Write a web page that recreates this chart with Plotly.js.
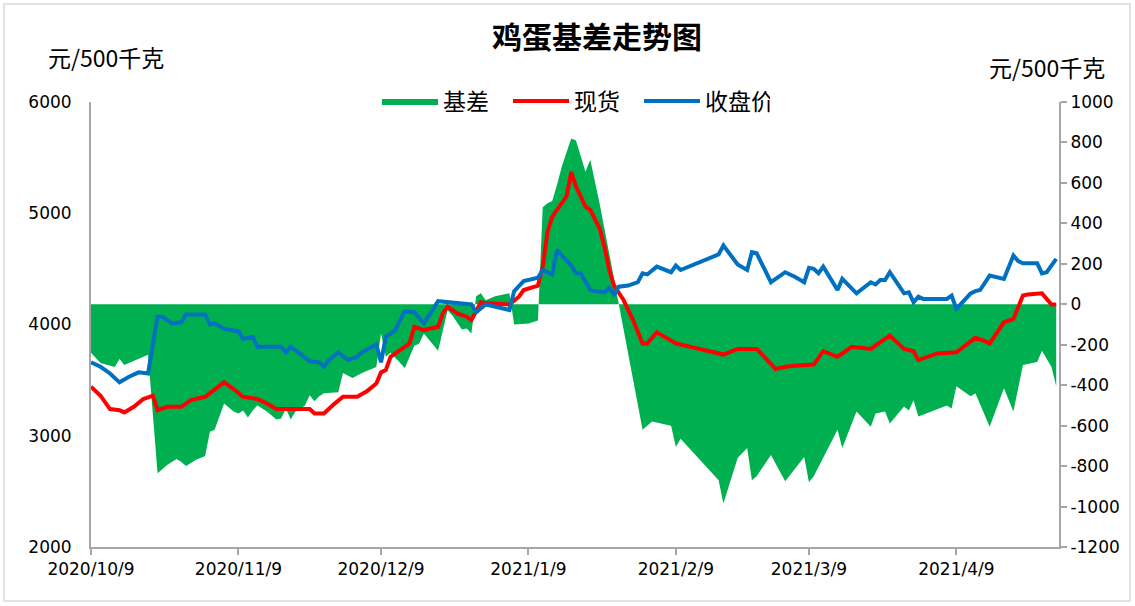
<!DOCTYPE html>
<html>
<head>
<meta charset="utf-8">
<script src="https://cdn.plot.ly/plotly-3.0.1.min.js"></script>
<style>html,body{margin:0;padding:0;background:#fff}#chart{width:1135px;height:606px}</style>
</head>
<body>
<div id="chart"></div>
<script>
// 基差 (right axis)
const basisDates = ['2020-10-09','2020-10-11','2020-10-14','2020-10-15','2020-10-16','2020-10-17','2020-10-19','2020-10-21','2020-10-23','2020-10-25','2020-10-27','2020-10-28','2020-10-29','2020-10-31','2020-11-02','2020-11-03','2020-11-04','2020-11-06','2020-11-08','2020-11-09','2020-11-10','2020-11-11','2020-11-12','2020-11-13','2020-11-15','2020-11-17','2020-11-18','2020-11-19','2020-11-20','2020-11-21','2020-11-23','2020-11-24','2020-11-25','2020-11-26','2020-11-27','2020-11-30','2020-12-01','2020-12-03','2020-12-05','2020-12-08','2020-12-09','2020-12-10','2020-12-11','2020-12-12','2020-12-14','2020-12-16','2020-12-17','2020-12-18','2020-12-21','2020-12-23','2020-12-24','2020-12-26','2020-12-27','2020-12-28','2020-12-29','2020-12-30','2020-12-31','2021-01-02','2021-01-05','2021-01-06','2021-01-09','2021-01-11','2021-01-12','2021-01-13','2021-01-14','2021-01-15','2021-01-16','2021-01-17','2021-01-18','2021-01-19','2021-01-21','2021-01-22','2021-01-24','2021-01-26','2021-01-28','2021-01-30','2021-02-02','2021-02-04','2021-02-08','2021-02-09','2021-02-10','2021-02-18','2021-02-19','2021-02-22','2021-02-24','2021-02-25','2021-02-26','2021-03-01','2021-03-04','2021-03-08','2021-03-09','2021-03-10','2021-03-15','2021-03-16','2021-03-19','2021-03-22','2021-03-23','2021-03-25','2021-03-26','2021-03-29','2021-03-30','2021-03-31','2021-04-01','2021-04-07','2021-04-08','2021-04-09','2021-04-12','2021-04-13','2021-04-16','2021-04-19','2021-04-21','2021-04-23','2021-04-26','2021-04-27','2021-04-29','2021-04-30'];
const basisValues = [-240,-290,-310,-270,-300,-290,-270,-250,-835,-795,-765,-780,-800,-770,-750,-630,-620,-490,-530,-540,-525,-560,-525,-500,-530,-570,-565,-515,-570,-530,-500,-450,-480,-455,-440,-435,-340,-365,-340,-310,-145,-260,-240,-265,-315,-205,-195,-145,-230,-30,-55,-125,-120,-145,40,55,20,40,55,-100,-95,-80,480,500,510,590,680,750,820,810,655,715,495,250,5,-240,-620,-580,-600,-705,-665,-870,-985,-760,-710,-870,-850,-745,-875,-755,-880,-850,-620,-710,-530,-605,-540,-530,-590,-505,-525,-475,-555,-500,-515,-405,-455,-440,-605,-415,-530,-300,-285,-230,-310,-405];

// 现货 (left axis)
const spotDates = ['2020-10-09','2020-10-11','2020-10-13','2020-10-15','2020-10-16','2020-10-18','2020-10-20','2020-10-22','2020-10-23','2020-10-25','2020-10-28','2020-10-30','2020-11-02','2020-11-04','2020-11-06','2020-11-08','2020-11-10','2020-11-13','2020-11-15','2020-11-17','2020-11-19','2020-11-24','2020-11-25','2020-11-27','2020-11-29','2020-12-01','2020-12-04','2020-12-06','2020-12-08','2020-12-09','2020-12-10','2020-12-11','2020-12-13','2020-12-15','2020-12-16','2020-12-18','2020-12-21','2020-12-22','2020-12-23','2020-12-25','2020-12-27','2020-12-28','2020-12-30','2020-12-31','2021-01-05','2021-01-07','2021-01-08','2021-01-11','2021-01-12','2021-01-13','2021-01-14','2021-01-17','2021-01-18','2021-01-19','2021-01-21','2021-01-22','2021-01-24','2021-01-25','2021-01-26','2021-01-27','2021-01-29','2021-01-31','2021-02-02','2021-02-03','2021-02-05','2021-02-09','2021-02-19','2021-02-22','2021-02-26','2021-03-02','2021-03-04','2021-03-06','2021-03-10','2021-03-12','2021-03-15','2021-03-18','2021-03-22','2021-03-26','2021-03-29','2021-03-31','2021-04-01','2021-04-05','2021-04-09','2021-04-13','2021-04-15','2021-04-16','2021-04-19','2021-04-21','2021-04-23','2021-04-24','2021-04-27','2021-04-29','2021-04-30'];
const spotValues = [3440,3360,3240,3230,3210,3260,3330,3360,3230,3260,3260,3320,3350,3410,3480,3420,3350,3330,3290,3240,3240,3240,3200,3200,3280,3350,3350,3400,3470,3570,3590,3710,3770,3830,3980,3950,3980,4100,4160,4100,4070,4040,4200,4190,4180,4250,4310,4350,4520,4830,4970,5150,5370,5240,5060,5030,4860,4700,4490,4350,4220,4040,3830,3830,3930,3830,3730,3780,3780,3600,3620,3630,3640,3760,3710,3800,3780,3900,3780,3760,3680,3740,3750,3880,3850,3830,4020,4050,4260,4270,4280,4180,4180];

// 收盘价 (left axis)
const futDates = ['2020-10-09','2020-10-11','2020-10-13','2020-10-15','2020-10-17','2020-10-19','2020-10-21','2020-10-23','2020-10-24','2020-10-26','2020-10-28','2020-10-29','2020-11-02','2020-11-03','2020-11-04','2020-11-06','2020-11-09','2020-11-10','2020-11-12','2020-11-13','2020-11-18','2020-11-19','2020-11-20','2020-11-22','2020-11-24','2020-11-26','2020-11-27','2020-11-28','2020-11-30','2020-12-02','2020-12-04','2020-12-05','2020-12-08','2020-12-09','2020-12-10','2020-12-12','2020-12-14','2020-12-16','2020-12-18','2020-12-21','2020-12-23','2020-12-26','2020-12-28','2020-12-29','2020-12-31','2021-01-05','2021-01-06','2021-01-08','2021-01-11','2021-01-12','2021-01-14','2021-01-15','2021-01-17','2021-01-18','2021-01-19','2021-01-20','2021-01-22','2021-01-23','2021-01-25','2021-01-26','2021-01-27','2021-01-28','2021-01-30','2021-02-01','2021-02-02','2021-02-03','2021-02-05','2021-02-08','2021-02-09','2021-02-10','2021-02-18','2021-02-19','2021-02-22','2021-02-24','2021-02-25','2021-02-26','2021-03-01','2021-03-04','2021-03-06','2021-03-08','2021-03-09','2021-03-10','2021-03-11','2021-03-12','2021-03-15','2021-03-16','2021-03-19','2021-03-22','2021-03-23','2021-03-24','2021-03-25','2021-03-26','2021-03-29','2021-03-30','2021-03-31','2021-04-01','2021-04-02','2021-04-07','2021-04-08','2021-04-09','2021-04-12','2021-04-13','2021-04-14','2021-04-16','2021-04-19','2021-04-21','2021-04-22','2021-04-23','2021-04-26','2021-04-27','2021-04-28','2021-04-30'];
const futValues = [3660,3620,3560,3480,3530,3570,3560,4070,4070,4010,4020,4090,4090,4000,4010,3960,3940,3870,3890,3800,3800,3750,3800,3740,3670,3660,3620,3680,3750,3680,3710,3750,3820,3660,3890,3950,4120,4110,4010,4210,4200,4190,4180,4110,4180,4130,4300,4390,4420,4490,4450,4670,4580,4530,4460,4460,4310,4300,4290,4330,4270,4340,4350,4380,4460,4450,4520,4470,4530,4490,4630,4710,4540,4490,4650,4640,4380,4470,4430,4380,4510,4500,4460,4520,4310,4410,4280,4380,4360,4400,4400,4470,4280,4290,4200,4250,4230,4230,4260,4140,4280,4300,4310,4440,4410,4620,4570,4550,4550,4460,4470,4590];

// axis ticks
const xTickVals = ['2020-10-09','2020-11-09','2020-12-09','2021-01-09','2021-02-09','2021-03-09','2021-04-09'];
const xTickText = ['2020/10/9','2020/11/9','2020/12/9','2021/1/9','2021/2/9','2021/3/9','2021/4/9'];
const leftTicks = [2000,3000,4000,5000,6000];
const rightTicks = [-1200,-1000,-800,-600,-400,-200,0,200,400,600,800,1000];

const CJK = '"Noto Sans CJK SC", "Noto Sans", sans-serif';
const NUM = '"DejaVu Sans", sans-serif';
const axisGray = '#a6a6a6';

// basis area on base axis 'y' (right side); price lines on overlaying 'y2' (left side) so they draw on top
const traces = [
  {x: basisDates, y: basisValues, type: 'scatter', mode: 'lines', name: '基差', yaxis: 'y',
   fill: 'tozeroy', fillcolor: '#00b050', line: {width: 0, color: '#00b050'}},
  {x: spotDates, y: spotValues, type: 'scatter', mode: 'lines', name: '现货', yaxis: 'y2',
   line: {color: '#ff0000', width: 4}},
  {x: futDates, y: futValues, type: 'scatter', mode: 'lines', name: '收盘价', yaxis: 'y2',
   line: {color: '#0070c0', width: 4}}
];

const layout = {
  width: 1135, height: 606,
  margin: {l: 91, r: 76, t: 102, b: 59},
  paper_bgcolor: '#ffffff', plot_bgcolor: '#ffffff',
  font: {family: NUM, size: 17, color: '#000000'},
  title: {text: '鸡蛋基差走势图', x: (597-91)/968, xref: 'paper', xanchor: 'center', y: 1 - 37/606, yanchor: 'middle',
          font: {family: CJK, size: 30, color: '#000000', weight: 'bold'}},
  showlegend: true,
  legend: {orientation: 'h', x: (377-91)/968, xanchor: 'left', y: 1.002, yanchor: 'middle',
           font: {family: CJK, size: 23, color: '#000000'}, bgcolor: 'rgba(0,0,0,0)', itemwidth: 56,
           entrywidth: 60, entrywidthmode: 'pixels', traceorder: 'normal'},
  xaxis: {type: 'date', range: ['2020-10-09', '2021-04-30 14:00'], tickmode: 'array', tickvals: xTickVals, ticktext: xTickText,
          ticks: 'outside', ticklen: 6, tickcolor: axisGray, tickwidth: 2, showline: true, linecolor: axisGray, linewidth: 2,
          showgrid: false, zeroline: false, tickfont: {family: NUM, size: 17, color: '#000'}},
  yaxis: {side: 'right', range: [-1200, 1000], tickmode: 'array', tickvals: rightTicks, ticktext: rightTicks.map(String),
          showline: true, linecolor: axisGray, linewidth: 2, ticks: 'outside', ticklen: 6, tickcolor: axisGray, tickwidth: 2,
          showgrid: false, zeroline: false, tickfont: {family: NUM, size: 17, color: '#000'}},
  yaxis2: {overlaying: 'y', side: 'left', range: [2000, 6000], tickmode: 'array', tickvals: leftTicks, ticktext: leftTicks.map(String),
           showline: true, linecolor: axisGray, linewidth: 2, ticks: '', showgrid: false, zeroline: false,
           ticklabelstandoff: 14, tickfont: {family: NUM, size: 17, color: '#000'}},
  annotations: [
    {text: '元/500千克', xref: 'paper', yref: 'paper', x: (106-91)/968, y: (547-57)/445, xanchor: 'center', yanchor: 'middle',
     showarrow: false, font: {family: CJK, size: 23, color: '#000'}},
    {text: '元/500千克', xref: 'paper', yref: 'paper', x: (1047-91)/968, y: (547-67)/445, xanchor: 'center', yanchor: 'middle',
     showarrow: false, font: {family: CJK, size: 23, color: '#000'}}
  ],
  shapes: [
    {type: 'rect', xref: 'paper', yref: 'paper', x0: (4-91)/968, x1: (1130-91)/968, y0: (547-601)/445, y1: (547-4)/445,
     line: {color: '#d9d9d9', width: 1.5}, fillcolor: 'rgba(0,0,0,0)', layer: 'below'}
  ]
};

Plotly.newPlot('chart', traces, layout, {staticPlot: true, displayModeBar: false});
</script>
</body>
</html>
